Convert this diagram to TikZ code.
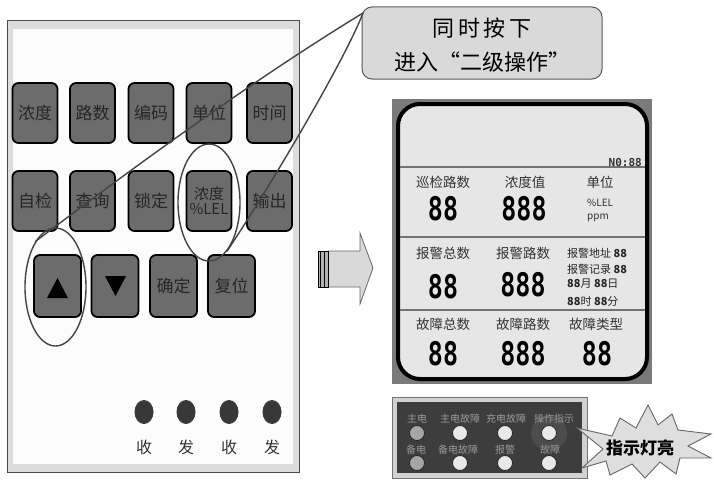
\documentclass[tikz,border=0pt]{standalone}
\usepackage{fontspec}
\usepackage{graphicx}
\setmainfont{Noto Sans CJK SC}
\newfontfamily\digitfont{DejaVu Sans Mono}
\usetikzlibrary{shapes.geometric}
\definecolor{btngray}{HTML}{6C6C6C}
\definecolor{panelgray}{HTML}{DCDCDC}
\definecolor{screen}{HTML}{E6E6E6}
\definecolor{framegray}{HTML}{7A7A7A}
\definecolor{ledpanel}{HTML}{3D3D3D}
\definecolor{linegray}{HTML}{444444}
\begin{document}
\begin{tikzpicture}[x=1pt,y=-1pt,
  btn/.style={draw=black, line width=1.8pt, rounded corners=6pt, fill=btngray,
    minimum width=45pt, minimum height=60pt, inner sep=0pt,
    font=\fontsize{17}{19}\selectfont, text=black!85},
  hdr/.style={font=\fontsize{13.5}{15}\selectfont, text=black!80, inner sep=0pt},
  dig/.style={font=\digitfont\bfseries\fontsize{25}{25}\selectfont, inner sep=0pt},
  small/.style={font=\fontsize{11}{12}\selectfont, text=black!80, inner sep=0pt},
  ledlbl/.style={font=\fontsize{10}{11}\selectfont, text=black!40, inner sep=0pt},
  ledA/.style={circle, draw=black!85, line width=0.8pt, fill=black!35, minimum size=15pt, inner sep=0pt},
  ledB/.style={circle, draw=black!85, line width=0.8pt, fill=black!9, minimum size=15pt, inner sep=0pt},
  dot/.style={ellipse, fill=black!78, minimum width=19pt, minimum height=24pt, inner sep=0pt},
  rxtx/.style={font=\fontsize{16}{18}\selectfont, text=black!80, inner sep=0pt},
  ring/.style={ellipse, draw=linegray, line width=1.4pt, inner sep=0pt},
  callline/.style={draw=linegray, line width=1.4pt}
]
\useasboundingbox (0,0) rectangle (714,487);
\fill[white] (0,0) rectangle (714,487);

% ---------- left panel ----------
\draw[fill=panelgray, draw=black!70, line width=0.8pt] (7,20) rectangle (299,472);
\fill[black!1] (13,29) rectangle (293,464);

% row 1
\node[btn] (b11) at (35,113) {浓度};
\node[btn] (b12) at (92.5,113) {路数};
\node[btn] (b13) at (151,113) {编码};
\node[btn] (b14) at (209,113) {单位};
\node[btn] (b15) at (269.5,113) {时间};
% row 2
\node[btn] (b21) at (35,201) {自检};
\node[btn] (b22) at (92.5,201) {查询};
\node[btn] (b23) at (151,201) {锁定};
\node[btn, align=center, font=\fontsize{15}{17}\selectfont] (b24) at (209,201) {浓度\\[-2pt]\%LEL};
\node[btn] (b25) at (269.5,201) {输出};
% row 3
\node[btn, minimum width=47pt, minimum height=62pt] (b31) at (57.5,286) {};
\node[btn, minimum width=47pt, minimum height=62pt] (b32) at (115,286) {};
\node[btn, minimum width=47pt, minimum height=62pt] (b33) at (173.5,286) {确定};
\node[btn, minimum width=47pt, minimum height=62pt] (b34) at (231.5,286) {复位};
\fill[black] (47,298) -- (68,298) -- (57.5,278) -- cycle;
\fill[black] (105,276) -- (126,276) -- (115.5,296) -- cycle;

% rx/tx lamps
\node[dot] (d1) at (144,412) {};
\node[dot] (d2) at (186,412) {};
\node[dot] (d3) at (229,412) {};
\node[dot] (d4) at (272,412) {};
\node[rxtx] (t1) at (144,447) {收};
\node[rxtx] (t2) at (186,447) {发};
\node[rxtx] (t3) at (229,447) {收};
\node[rxtx] (t4) at (272,447) {发};

% ---------- callout box ----------
\node[draw=black!65, line width=1pt, fill=black!15, rounded corners=10pt,
  minimum width=240pt, minimum height=72pt, inner sep=0pt] (call) at (482,43) {};
\node[font=\fontsize{22}{24}\selectfont, inner sep=0pt] (cl1) at (482,28) {同\,时\,按\,下};
\node[font=\fontsize{22}{24}\selectfont, inner sep=0pt] (cl2) at (482,62) {进入“二级操作”};

% ---------- big arrow ----------
\draw[fill=black!15, draw=black!60, line width=0.8pt]
  (328,251) -- (360,251) -- (360,233) -- (373,268) -- (360,304) -- (360,287) -- (328,287) -- cycle;
\draw[fill=black!30, draw=black, line width=0.8pt] (318,251) rectangle (328,287);
\draw[black, line width=1.4pt] (320.5,251) -- (320.5,287);
\draw[black, line width=1.4pt] (324.5,251) -- (324.5,287);

% ---------- display ----------
\fill[framegray] (392,99) rectangle (652,384);
\draw[black, line width=4pt, fill=screen, rounded corners=22pt] (398,104) rectangle (647,379);
\draw[black!55, line width=1.5pt] (400,167) -- (645,167);
\draw[black!55, line width=1.5pt] (400,237) -- (645,237);
\draw[black!55, line width=1.5pt] (400,310) -- (645,310);

\node[font=\digitfont\bfseries\fontsize{11}{12}\selectfont, anchor=east, inner sep=0pt, text=black!80] (no) at (642,162) {N0:88};

\node[hdr] (h11) at (443,182) {巡检路数};
\node[hdr] (h12) at (525,182) {浓度值};
\node[hdr] (h13) at (600,182) {单位};
\node[dig] (v11) at (443,209) {\scalebox{1}[1.3]{88}};
\node[dig] (v12) at (524,209) {\scalebox{1}[1.3]{888}};
\node[small, anchor=west, font=\fontsize{10}{11}\selectfont] (u1) at (587,203) {\%LEL};
\node[small, anchor=west, font=\fontsize{10}{11}\selectfont] (u2) at (587,218) {ppm};

\node[hdr] (h21) at (443,253) {报警总数};
\node[hdr] (h22) at (523,253) {报警路数};
\node[dig] (v21) at (443,287) {\scalebox{1}[1.3]{88}};
\node[dig] (v22) at (523,285) {\scalebox{1}[1.3]{888}};
\node[small, anchor=west, text=black!85] (r1) at (567,253) {报警地址 \textbf{88}};
\node[small, anchor=west, text=black!85] (r2) at (567,269) {报警记录 \textbf{88}};
\node[small, anchor=west, text=black!85] (r3) at (567,284) {\textbf{88}月 \textbf{88}日};
\node[small, anchor=west, text=black!85] (r4) at (567,301) {\textbf{88}时 \textbf{88}分};

\node[hdr] (h31) at (443,324) {故障总数};
\node[hdr] (h32) at (523,324) {故障路数};
\node[hdr] (h33) at (596,324) {故障类型};
\node[dig] (v31) at (443,354) {\scalebox{1}[1.3]{88}};
\node[dig] (v32) at (523,354) {\scalebox{1}[1.3]{888}};
\node[dig] (v33) at (597,354) {\scalebox{1}[1.3]{88}};

% ---------- indicator panel ----------
\draw[fill=black!18, draw=black!55, line width=0.8pt] (392,397) rectangle (587,478);
\fill[ledpanel] (397,402) rectangle (582,473);
\fill[black!70] (549,433) circle[radius=18pt];
\node[ledlbl] (l1) at (417,419) {主电};
\node[ledlbl] (l2) at (460,419) {主电故障};
\node[ledlbl] (l3) at (506,419) {充电故障};
\node[ledlbl] (l4) at (554,419) {操作指示};
\node[ledA] (c1) at (417,433) {};
\node[ledB] (c2) at (460,433) {};
\node[ledB] (c3) at (505,433) {};
\node[ledB] (c4) at (549,433) {};
\node[ledlbl] (l5) at (416,450) {备电};
\node[ledlbl] (l6) at (458,450) {备电故障};
\node[ledlbl] (l7) at (505,450) {报警};
\node[ledlbl] (l8) at (550,450) {故障};
\node[ledA] (c5) at (417,463) {};
\node[ledB] (c6) at (460,463) {};
\node[ledB] (c7) at (505,463) {};
\node[ledB] (c8) at (549,463) {};

% ---------- starburst ----------
\draw[fill=black!13, draw=black!60, line width=0.9pt]
  (577,428) -- (612,436) -- (620,418) -- (636,428) -- (648,405) -- (658,425)
  -- (672,414) -- (678,430) -- (711,434) -- (688,446) -- (711,458) -- (680,458)
  -- (676,474) -- (660,462) -- (645,478) -- (632,464) -- (610,475) -- (606,461)
  -- (582,468) -- (603,449) -- cycle;
\node[font=\bfseries\fontsize{17}{19}\selectfont, inner sep=0pt] (star) at (640,448) {指示灯亮};

% ---------- rings and callout lines ----------
\node[ring, minimum width=61pt, minimum height=118pt] (e1) at (55.5,287) {};
\node[ring, minimum width=62pt, minimum height=117pt] (e2) at (209,202.5) {};
\coordinate (tip) at (363,13);
\draw[callline] (tip) .. controls (250,82) and (130,170) .. (e1.114);
\draw[callline] (tip) .. controls (345,60) and (268,190) .. (e2.-70);
\end{tikzpicture}
\end{document}
